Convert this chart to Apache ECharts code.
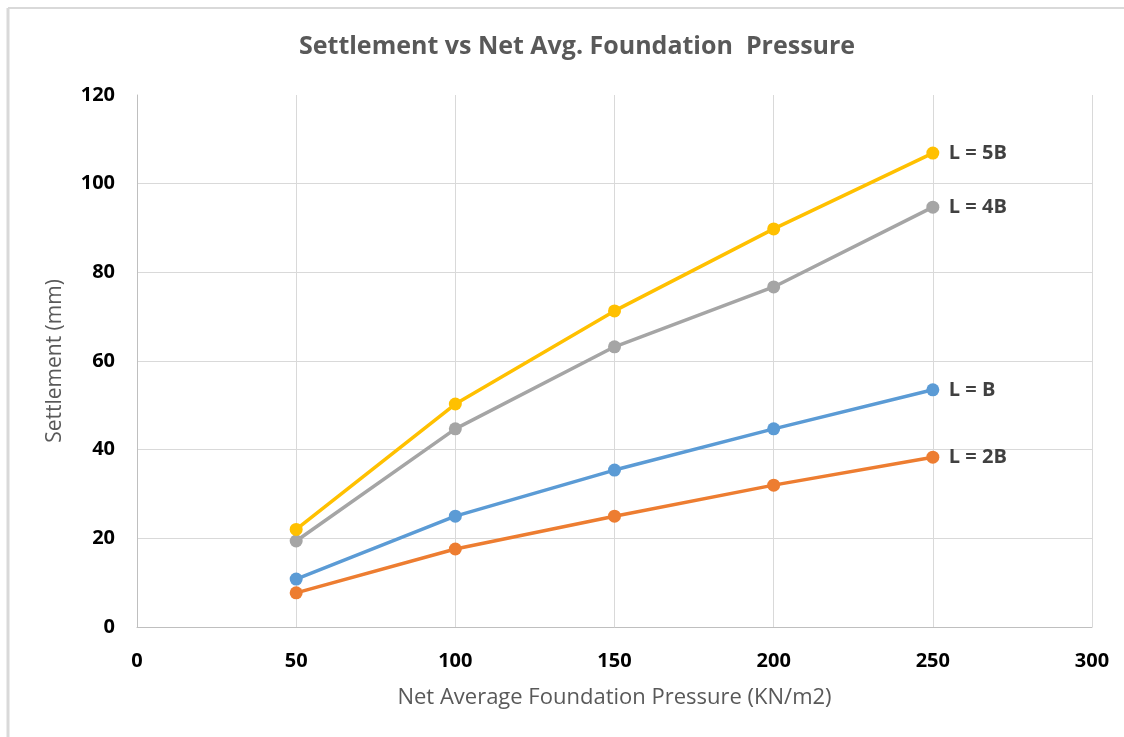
<!DOCTYPE html>
<html>
<head>
<meta charset="utf-8">
<script src="https://cdn.jsdelivr.net/npm/echarts@6/dist/echarts.min.js"></script>
<style>
html,body{margin:0;padding:0;background:#fff;}
#chart{width:1124px;height:737px;}
</style>
</head>
<body>
<div id="chart"></div>
<script>
const pressures = [50, 100, 150, 200, 250];
const seriesNames = ["L = 5B", "L = 4B", "L = B", "L = 2B"];
const settle5B = [22.0, 50.3, 71.3, 89.8, 106.9];
const settle4B = [19.4, 44.7, 63.2, 76.7, 94.7];
const settleB  = [10.8, 25.0, 35.4, 44.7, 53.5];
const settle2B = [7.7, 17.6, 25.0, 32.0, 38.3];
const colors = ["#FFC000", "#A5A5A5", "#5B9BD5", "#ED7D31"];
const allValues = [settle5B, settle4B, settleB, settle2B];

const chart = echarts.init(document.getElementById('chart'));
const fontFam = "'Open Sans', Lato, sans-serif";

const series = allValues.map((vals, i) => ({
  name: seriesNames[i],
  type: 'line',
  data: vals.map((v, j) => [pressures[j], v]),
  symbol: 'circle',
  symbolSize: 13,
  lineStyle: { width: 3.5, color: colors[i] },
  itemStyle: { color: colors[i] },
  endLabel: {
    show: true,
    formatter: seriesNames[i],
    distance: 16,
    color: '#404040',
    fontWeight: 'bold',
    fontSize: 20,
    fontFamily: fontFam
  },
  emphasis: { disabled: true },
  animation: false,
  z: 10 - i
}));

chart.setOption({
  animation: false,
  title: {
    text: 'Settlement vs Net Avg. Foundation  Pressure',
    left: 294,
    top: 29,
    textStyle: { fontSize: 25, fontWeight: 'bold', color: '#595959', fontFamily: fontFam }
  },
  grid: { left: 137, right: 32, top: 95, bottom: 110 },
  xAxis: {
    type: 'value',
    min: 0, max: 300, interval: 50,
    name: 'Net Average Foundation Pressure (KN/m2)',
    nameLocation: 'middle',
    nameGap: 60,
    nameTextStyle: { fontSize: 22, color: '#595959', fontFamily: fontFam },
    axisLine: { show: true, lineStyle: { color: '#bfbfbf', width: 1 } },
    axisTick: { show: false },
    axisLabel: { fontSize: 20, fontWeight: 'bold', color: '#000', margin: 24, fontFamily: fontFam },
    splitLine: { show: true, lineStyle: { color: '#d9d9d9', width: 1 } }
  },
  yAxis: {
    type: 'value',
    min: 0, max: 120, interval: 20,
    name: 'Settlement (mm)',
    nameLocation: 'middle',
    nameGap: 71,
    nameTextStyle: { fontSize: 21, color: '#595959', fontFamily: fontFam },
    axisLine: { show: true, lineStyle: { color: '#bfbfbf', width: 1 } },
    axisTick: { show: false },
    axisLabel: { fontSize: 20, fontWeight: 'bold', color: '#000', margin: 22, fontFamily: fontFam },
    splitLine: { show: true, showMaxLine: false, lineStyle: { color: '#d9d9d9', width: 1 } }
  },
  graphic: [
    { type: 'line', shape: { x1: 8, y1: 8, x2: 1124, y2: 8 }, style: { stroke: '#d9d9d9', lineWidth: 2 } },
    { type: 'line', shape: { x1: 8, y1: 8, x2: 8, y2: 737 }, style: { stroke: '#d9d9d9', lineWidth: 3 } }
  ],
  series: series
});
</script>
</body>
</html>
